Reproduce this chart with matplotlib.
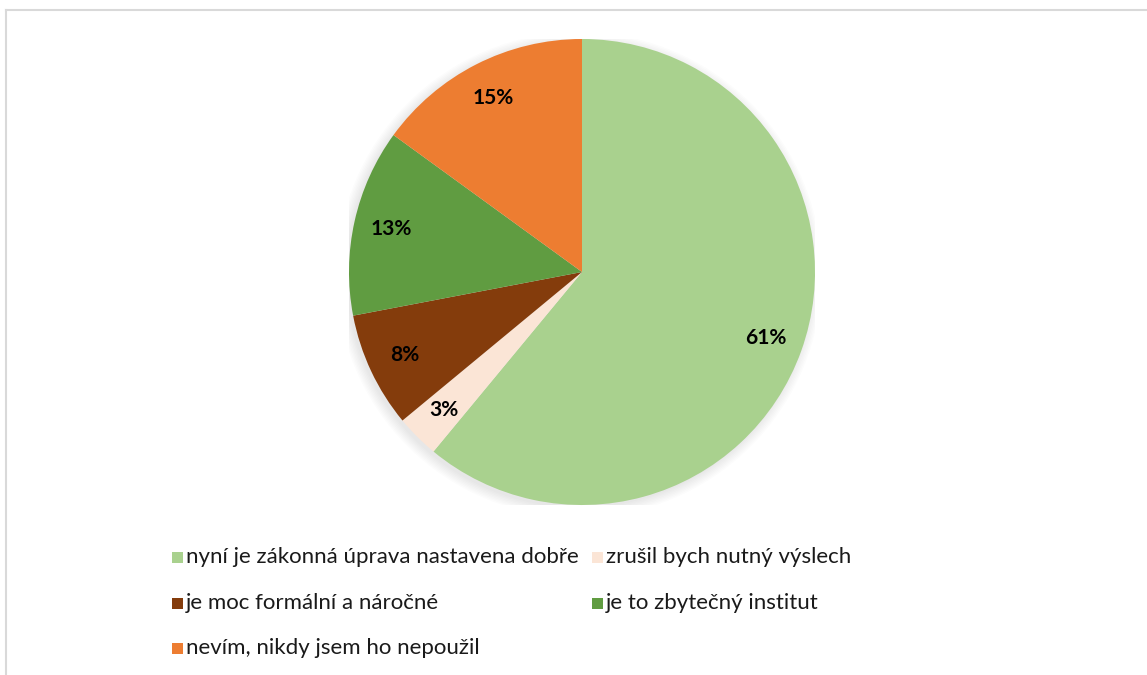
import matplotlib.pyplot as plt
import matplotlib.patches as mpatches
from matplotlib.lines import Line2D

plt.rcParams['font.family'] = ['Lato', 'DejaVu Sans']

labels = ["nyní je zákonná úprava nastavena dobře", "zrušil bych nutný výslech",
          "je moc formální a náročné", "je to zbytečný institut",
          "nevím, nikdy jsem ho nepoužil"]
values = [61, 3, 8, 13, 15]
colors = ["#A9D18E", "#FBE5D6", "#843C0C", "#609C41", "#ED7D31"]

W, H = 1147, 675
fig = plt.figure(figsize=(W / 100, H / 100), dpi=100)

# chart border (cropped on right and bottom)
fig.add_artist(Line2D([6 / W, 6 / W], [0, 1 - 9.5 / H], transform=fig.transFigure, color="#D9D9D9", lw=1.5))
fig.add_artist(Line2D([6 / W, 1], [1 - 9.5 / H, 1 - 9.5 / H], transform=fig.transFigure, color="#D9D9D9", lw=1.5))

cx, cy, R = 582, 272, 233
ax = fig.add_axes([(cx - R) / W, 1 - (cy + R) / H, 2 * R / W, 2 * R / H])

# soft shadow
for i in range(8):
    ax.add_patch(mpatches.Circle((-0.012, -0.012), 1.0 + 0.006 * i, color="black", alpha=0.012, lw=0, zorder=0))

wedges, texts, autotexts = ax.pie(values, colors=colors, startangle=90, counterclock=False,
                                  autopct="%d%%", pctdistance=0.84,
                                  wedgeprops=dict(linewidth=0),
                                  textprops=dict(fontsize=15, fontweight="bold", color="black"))
ax.set_xlim(-1, 1)
ax.set_ylim(-1, 1)
ax.set_aspect("equal")

# legend, row-wise in two columns
pos = [(172, 557), (592, 557), (172, 603), (592, 603), (172, 648)]
for (x, y), lab, c in zip(pos, labels, colors):
    fig.add_artist(mpatches.Rectangle((x / W, 1 - (y + 5.5) / H), 11 / W, 11 / H,
                                      transform=fig.transFigure, color=c, lw=0))
    fig.text((x + 14) / W, 1 - y / H, lab, fontsize=16, va="center", ha="left", color="#1a1a1a")

fig.savefig("out.png", dpi=100)
